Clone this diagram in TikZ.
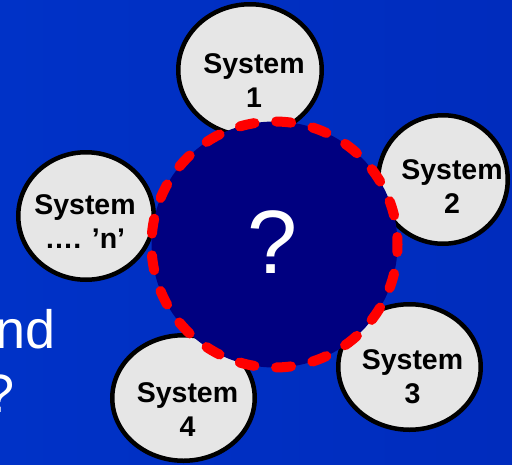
\documentclass[tikz,border=0pt]{standalone}
\usepackage{fontspec}
\setmainfont{Liberation Sans}
\usetikzlibrary{shapes.geometric}
\definecolor{bgblueA}{RGB}{0,50,199}
\definecolor{bgblueB}{RGB}{0,44,189}
\definecolor{navycore}{RGB}{0,0,128}
\definecolor{sysgray}{RGB}{230,230,230}
\definecolor{dashred}{RGB}{255,0,0}
\begin{document}
\begin{tikzpicture}[x=1pt,y=-1pt,
  sysell/.style={ellipse, draw=black, line width=4.5pt, fill=sysgray, inner sep=0pt},
  systext/.style={align=center, font=\fontsize{28.5}{34}\selectfont\bfseries, inner sep=0pt, text=black},
  sidetext/.style={font=\fontsize{54}{60}\selectfont, text=white, inner sep=0pt, anchor=base east},
  corecircle/.style={circle, minimum size=246pt, inner sep=0pt, fill=navycore, draw=dashred,
    line width=10pt, dash pattern=on 15pt off 21.8pt, dash phase=7.5pt, line cap=round}]
\useasboundingbox (0,0) rectangle (512,464);
\fill[left color=bgblueA, right color=bgblueB] (0,0) rectangle (512,464);

\node[sidetext] (ltxtA) at (56,348) {nd};
\node[sidetext] (ltxtB) at (14.5,412) {?};

\node[sysell, minimum width=143.5pt, minimum height=131.5pt] (s1) at (250,70) {};
\node[sysell, minimum width=129.5pt, minimum height=128.5pt] (s2) at (443,179.5) {};
\node[sysell, minimum width=142.5pt, minimum height=125.5pt] (s3) at (409.5,367) {};
\node[sysell, minimum width=142.5pt, minimum height=125.5pt] (s4) at (183.5,398) {};
\node[sysell, minimum width=135.5pt, minimum height=127.5pt] (sn) at (86,216) {};

\node[systext] (t1) at ([xshift=4pt,yshift=-10.6pt]s1.center) {System\\1};
\node[systext] (t2) at ([xshift=9pt,yshift=-7.1pt]s2.center) {System\\2};
\node[systext] (t3) at ([xshift=3pt,yshift=-9.6pt]s3.center) {System\\3};
\node[systext] (t4) at ([xshift=4pt,yshift=-11.6pt]s4.center) {System\\4};
\node[systext] (tn) at ([xshift=-1pt,yshift=-5.6pt]sn.center) {System\\…. ’n’};

\node[corecircle] (core) at (274.5,244.5) {};
\node[font=\fontsize{90}{100}\selectfont, text=white, inner sep=0pt, anchor=base] (q) at ([xshift=-2pt,yshift=-28.8pt]core.center) {?};
\end{tikzpicture}
\end{document}
